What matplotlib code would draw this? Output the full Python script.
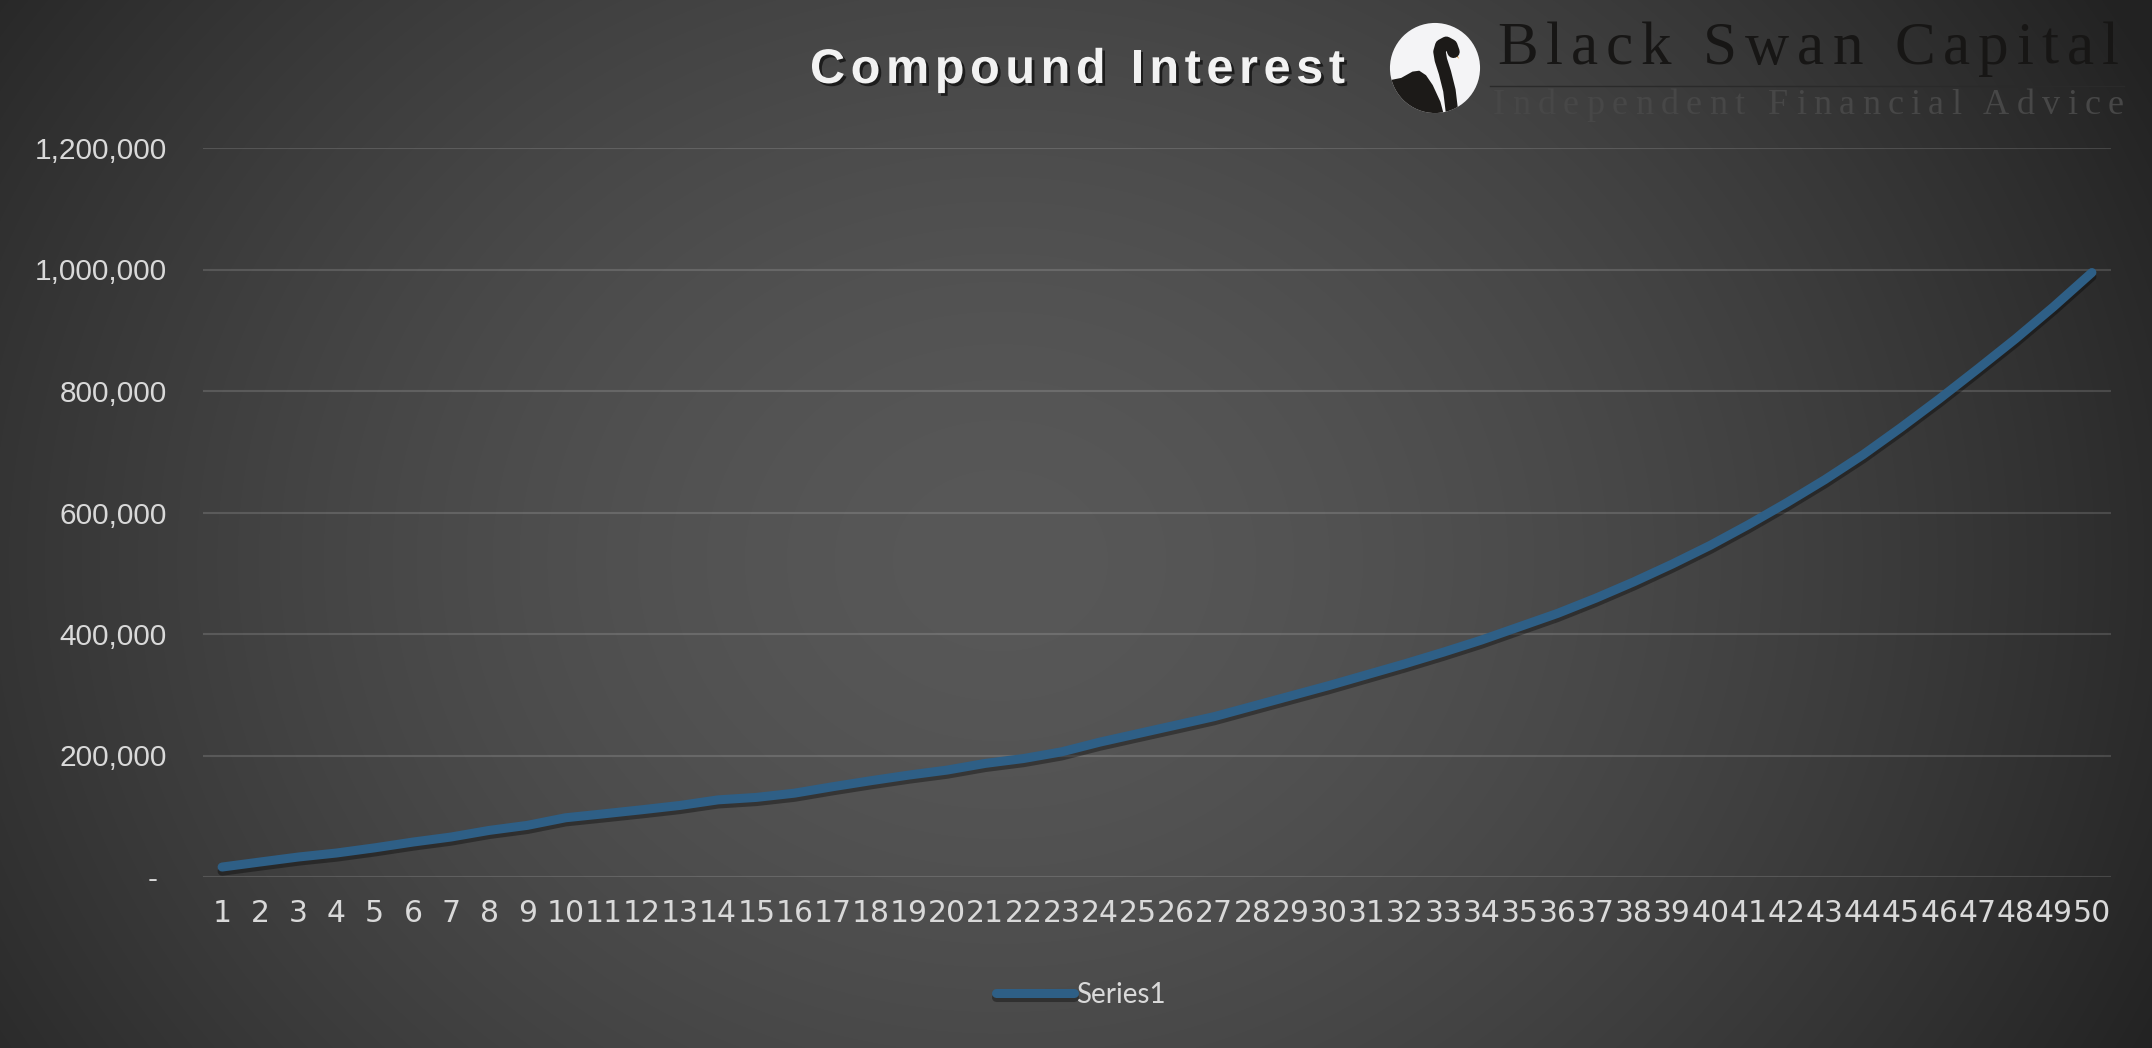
import numpy as np
import matplotlib
matplotlib.use('Agg')
import matplotlib.pyplot as plt
import matplotlib.patheffects as pe
from matplotlib.patches import Circle, Polygon
from matplotlib.ticker import FuncFormatter
from matplotlib.font_manager import FontProperties
from matplotlib.textpath import TextToPath

# data
years = list(range(1, 51))
x_labels = [str(y) for y in years]
values = [16400, 24700, 32900, 39500, 48000, 57500, 65800, 76700, 85000, 97500,
          104000, 110700, 117800, 127000, 131000, 138000, 148600, 158500, 167800, 176000,
          187000, 195000, 206000, 222000, 236000, 250000, 264000, 281000, 298000, 315000,
          333000, 351000, 370000, 390000, 412000, 434000, 459000, 486000, 515000, 546000,
          580000, 616000, 654000, 695000, 740000, 787000, 836000, 886000, 939000, 995000]
y_ticks = [0, 200000, 400000, 600000, 800000, 1000000, 1200000]
series_name = 'Series1'
title = 'Compound Interest'
brand = 'Black Swan Capital'
tagline = 'Independent Financial Advice'

W, H = 2152, 1048
plt.rcParams['font.family'] = ['Liberation Sans', 'DejaVu Sans']

fig = plt.figure(figsize=(W / 100, H / 100), dpi=100)

# radial grey background
bg = fig.add_axes([0, 0, 1, 1], zorder=-10)
bg.axis('off')
yy, xx = np.mgrid[0:H, 0:W]
r = np.sqrt(((xx - 1000) / 1300.0) ** 2 + ((yy - 560) / 1100.0) ** 2)
r = np.clip(r, 0, 1)
v = (0x58 - (0x58 - 0x22) * r ** 1.6) / 255.0
bg.imshow(np.dstack([v, v, v]), aspect='auto')

# main plot area
ax = fig.add_axes([203 / W, (H - 877) / H, (2111 - 203) / W, (877 - 148) / H])
ax.set_facecolor('none')
ax.plot(years, values, color='#2e5f86', lw=6.5, solid_capstyle='round',
        solid_joinstyle='round', label=series_name,
        path_effects=[pe.SimpleLineShadow(offset=(0, -3), shadow_color='k', alpha=0.35),
                      pe.Normal()])
ax.set_xlim(0.5, 50.5)
ax.set_ylim(0, 1200000)
ax.set_xticks(years)
ax.set_xticklabels(x_labels, fontfamily='DejaVu Sans', fontsize=21.5)
ax.set_yticks(y_ticks)
ax.yaxis.set_major_formatter(FuncFormatter(lambda val, pos: '-' if val == 0 else f'{val:,.0f}'))
ax.grid(axis='y', color='white', alpha=0.14, lw=1.5)
ax.set_axisbelow(True)
for s in ax.spines.values():
    s.set_visible(False)
ax.tick_params(length=0, colors='#d9d9d9')
ax.tick_params(axis='y', pad=26, labelsize=21.5)
ax.tick_params(axis='x', pad=16)
for lbl in ax.get_yticklabels():
    if lbl.get_text() == '-':
        lbl.set_x(-0.005)

# legend at the bottom
leg = fig.legend(loc='center', bbox_to_anchor=(1081 / W, (H - 995) / H), frameon=False,
                 handlelength=2.8, handletextpad=0.1,
                 prop=FontProperties(family=['Lato', 'DejaVu Sans'], size=20))
for t in leg.get_texts():
    t.set_color('#d9d9d9')

# letter-spaced text helper
_t2p = TextToPath()


def text_w(s, prop):
    return _t2p.get_text_width_height_descent(s, prop, ismath=False)[0] * 100 / 72.0


def spaced(s, x0, x1, ybase, prop, **kw):
    gap = (x1 - x0 - text_w(s, prop)) / (len(s) - 1)
    for k, c in enumerate(s):
        if c == ' ':
            continue
        pos = 0 if k == 0 else text_w(s[:k + 1], prop) - text_w(c, prop)
        fig.text((x0 + pos + k * gap) / W, 1 - ybase / H, c, ha='left', va='baseline',
                 fontproperties=prop, **kw)


tprop = FontProperties(family=['Liberation Sans', 'DejaVu Sans'], weight='bold', size=35)
spaced(title, 810, 1345, 83, tprop, color='#f2f2f2',
       path_effects=[pe.withSimplePatchShadow(offset=(2, -2), shadow_rgbFace='k', alpha=0.6)])

bprop = FontProperties(family=['Liberation Serif', 'DejaVu Serif'], size=44)
spaced(brand, 1497, 2119, 64, bprop, color='#171615')
sprop = FontProperties(family=['Liberation Serif', 'DejaVu Serif'], size=26)
spaced(tagline, 1493, 2124, 114, sprop, color='#474747')
fig.add_artist(plt.Line2D([1490 / W, 2124 / W], [1 - 86 / H, 1 - 86 / H],
                          color='#2a2a2a', lw=1))

# logo
lax = fig.add_axes([(1435 - 50) / W, (H - 68 - 50) / H, 100 / W, 100 / H])
lax.set_xlim(-1.11, 1.11)
lax.set_ylim(-1.11, 1.11)
lax.axis('off')
circ = Circle((0, 0), 1, fc='#f4f4f6', ec='none')
lax.add_patch(circ)
body = Polygon([(-1.05, -0.28), (-0.75, -0.22), (-0.5, -0.08), (-0.35, -0.06), (-0.2, -0.16),
                (-0.05, -0.38), (0.12, -0.75), (0.2, -1.05), (-1.05, -1.05)],
               closed=True, fc='#1c1a18', ec='none')
lax.add_patch(body)
body.set_clip_path(circ)
neck_u = [0.38, 0.32, 0.22, 0.13, 0.10, 0.14, 0.25, 0.36, 0.41]
neck_v = [-1.0, -0.5, -0.1, 0.18, 0.36, 0.50, 0.56, 0.50, 0.36]
nl, = lax.plot(neck_u, neck_v, color='#1c1a18', lw=9, solid_capstyle='round',
               solid_joinstyle='round')
nl.set_clip_path(circ)
lax.add_patch(Polygon([(0.42, 0.30), (0.54, 0.20), (0.47, 0.34)], closed=True,
                      fc='#e8a040', ec='none'))

fig.savefig('out.png', dpi=100)
